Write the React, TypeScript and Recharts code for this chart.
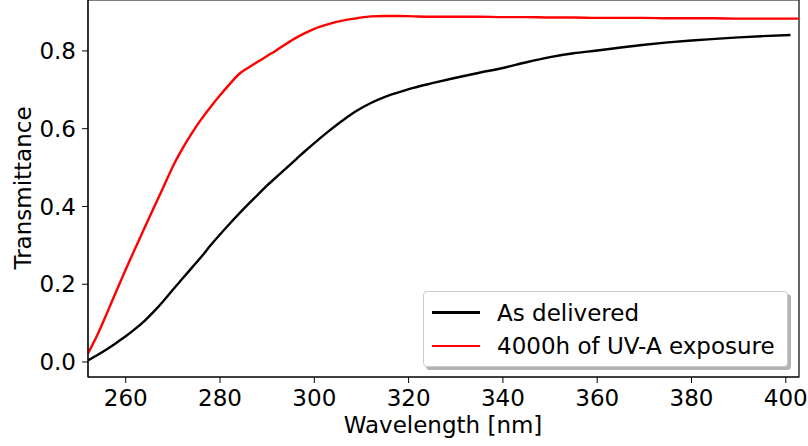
import {
  Label,
  Legend,
  Line,
  LineChart,
  ReferenceArea,
  XAxis,
  YAxis,
} from 'recharts'

const wavelengths = [
  252, 254, 256, 258, 260, 262, 264, 266, 268, 270, 272, 274, 276, 278, 280,
  282, 284, 286, 288, 290, 292, 294, 296, 298, 300, 303, 306, 309, 312, 315,
  318, 321, 325, 330, 335, 340, 345, 350, 355, 360, 365, 370, 375, 380, 385,
  390, 395, 401, 404,
]

const asDelivered = [
  0.004, 0.018, 0.033, 0.049, 0.066, 0.085, 0.106, 0.13, 0.157, 0.186, 0.214,
  0.242, 0.27, 0.3, 0.328, 0.355, 0.381, 0.406, 0.43, 0.454, 0.476, 0.498,
  0.52, 0.542, 0.563, 0.593, 0.621, 0.646, 0.666, 0.682, 0.694, 0.705, 0.717,
  0.731, 0.744, 0.756, 0.771, 0.784, 0.794, 0.801, 0.809, 0.816, 0.822, 0.827,
  0.831, 0.835, 0.838, 0.841, null,
]

const afterUvA = [
  0.022, 0.07, 0.125, 0.182, 0.238, 0.292, 0.345, 0.398, 0.45, 0.503, 0.548,
  0.588, 0.624, 0.656, 0.686, 0.714, 0.74, 0.757, 0.772, 0.787, 0.802, 0.818,
  0.833, 0.846, 0.857, 0.869, 0.878, 0.884, 0.889, 0.89, 0.89, 0.889, 0.888,
  0.888, 0.888, 0.887, 0.887, 0.886, 0.886, 0.885, 0.885, 0.885, 0.884, 0.884,
  0.884, 0.883, 0.883, 0.883, 0.883,
]

const seriesNames = ['As delivered', '4000h of UV-A exposure']
const xTicks = [260, 280, 300, 320, 340, 360, 380, 400]
const yTicks = [0, 0.2, 0.4, 0.6, 0.8]
const xDomain = [252, 402.8]
const yDomain = [-0.0386, 0.931]

const data = wavelengths.map((nm, i) => ({
  nm,
  asDelivered: asDelivered[i],
  afterUvA: afterUvA[i],
}))

const font = 'DejaVu Sans, sans-serif'
const fontSize = 23

function MplLegend({ payload }: any) {
  const items = [...(payload || [])].sort(
    (a: any, b: any) => seriesNames.indexOf(a.value) - seriesNames.indexOf(b.value),
  )
  return (
    <div
      style={{
        boxSizing: 'border-box',
        height: 76,
        background: '#fff',
        border: '1px solid #cccccc',
        borderRadius: 4,
        boxShadow: '3px 3px 0 #b3b3b3',
        padding: '4px 8px 4px 8px',
        fontFamily: font,
        fontSize,
        color: '#000',
      }}
    >
      {items.map((p: any) => (
        <div
          key={p.value}
          style={{ display: 'flex', alignItems: 'center', height: 33.3 }}
        >
          <span
            style={{
              display: 'inline-block',
              width: 48,
              height: 2.4,
              background: p.color,
              marginRight: 17,
            }}
          />
          <span>{p.value}</span>
        </div>
      ))}
    </div>
  )
}

export default function App() {
  return (
    <div style={{ position: 'absolute', left: 0, top: 0 }}>
      <LineChart
        width={808}
        height={446}
        data={data}
        margin={{ top: 0, right: 9, left: 0, bottom: 0 }}
      >
        <XAxis
          type="number"
          dataKey="nm"
          domain={xDomain}
          allowDataOverflow
          ticks={xTicks}
          height={69}
          tickSize={6}
          tickMargin={7}
          stroke="#000"
          tick={{ fill: '#000', fontSize, fontFamily: font }}
        >
          <Label
            content={() => (
              <text
                x={443}
                y={433}
                textAnchor="middle"
                fontFamily={font}
                fontSize={fontSize}
                fill="#000"
              >
                Wavelength [nm]
              </text>
            )}
          />
        </XAxis>
        <YAxis
          type="number"
          domain={yDomain}
          allowDataOverflow
          ticks={yTicks}
          width={88}
          tickSize={6}
          tickMargin={6}
          stroke="#000"
          tickFormatter={(v: number) => v.toFixed(1)}
          tick={{ fill: '#000', fontSize, fontFamily: font }}
        >
          <Label
            content={() => (
              <text
                x={31}
                y={188}
                transform="rotate(-90 31 188)"
                textAnchor="middle"
                fontFamily={font}
                fontSize={fontSize}
                fill="#000"
              >
                Transmittance
              </text>
            )}
          />
        </YAxis>
        <ReferenceArea
          x1={xDomain[0]}
          x2={xDomain[1]}
          y1={yDomain[0]}
          y2={yDomain[1]}
          fill="none"
          stroke="#000"
          strokeWidth={1.2}
        />
        <Line
          type="monotone"
          dataKey="asDelivered"
          name={seriesNames[0]}
          stroke="#000000"
          strokeWidth={2.4}
          dot={false}
          isAnimationActive={false}
        />
        <Line
          type="monotone"
          dataKey="afterUvA"
          name={seriesNames[1]}
          stroke="#ff0000"
          strokeWidth={2.4}
          dot={false}
          isAnimationActive={false}
        />
        <Legend
          layout="horizontal"
          verticalAlign="middle"
          align="center"
          content={MplLegend}
          wrapperStyle={{ left: 423, top: 291, width: 365 }}
        />
      </LineChart>
    </div>
  )
}
